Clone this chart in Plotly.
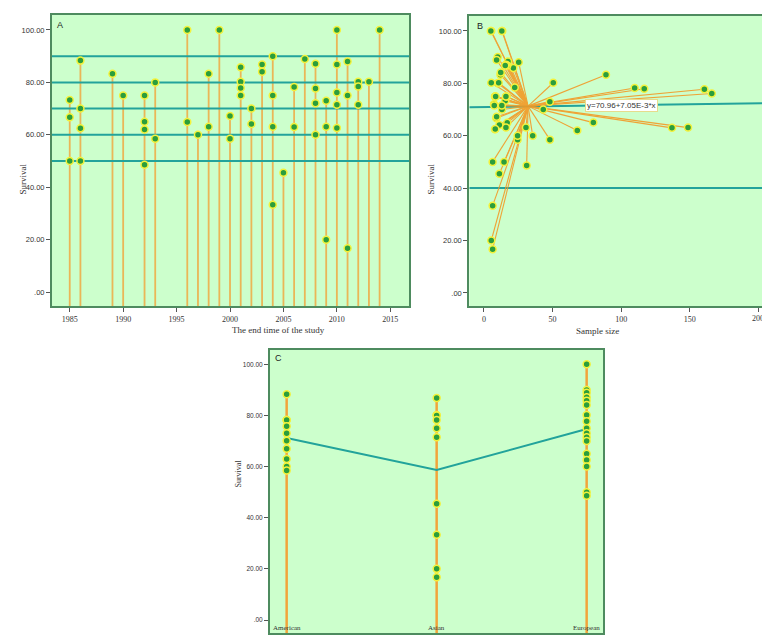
import plotly.graph_objects as go

# ---------------- Data ----------------
# Panels A and B: one entry per study
YEARS = [1985, 1985, 1985,
         1986, 1986, 1986, 1986,
         1989, 1990,
         1992, 1992, 1992, 1992,
         1993, 1993,
         1996, 1996, 1997,
         1998, 1998, 1999,
         2000, 2000,
         2001, 2001, 2001, 2001,
         2002, 2002,
         2003, 2003,
         2004, 2004, 2004, 2004,
         2005,
         2006, 2006,
         2007,
         2008, 2008, 2008, 2008,
         2009, 2009, 2009,
         2010, 2010, 2010, 2010, 2010,
         2011, 2011, 2011,
         2012, 2012, 2012,
         2013, 2014]
SURVIVAL = [73.3, 66.7, 50.0,
            88.3, 70.0, 62.5, 50.0,
            83.3, 75.0,
            75.0, 65.0, 62.0, 48.6,
            80.0, 58.5,
            100.0, 64.9, 60.0,
            83.3, 63.1, 100.0,
            67.2, 58.5,
            85.8, 80.2, 77.9, 75.0,
            70.0, 64.1,
            86.8, 84.1,
            90.0, 75.0, 63.1, 33.3,
            45.5,
            78.2, 63.0,
            88.9,
            87.1, 77.7, 72.0, 60.0,
            73.0, 63.1, 20.0,
            100.0, 86.8, 76.1, 71.5, 62.6,
            88.0, 75.0, 16.7,
            80.2, 78.4, 71.5,
            80.2, 100.0]
SAMPLE_SIZE = [15.5, 9.0, 6.3,
               17.5, 13.1, 8.0, 14.6,
               88.9, 8.2,
               16.5, 79.7, 68.0, 31.1,
               10.0, 24.5,
               5.3, 17.0, 24.5,
               12.0, 148.7, 13.3,
               9.2, 48.0,
               21.4, 50.5, 116.8, 8.0,
               43.2, 11.2,
               17.0, 12.2,
               10.0, 16.0, 30.6, 6.3,
               11.2,
               109.8, 137.0,
               9.2,
               16.0, 160.6, 7.3, 35.5,
               48.0, 16.0, 5.3,
               5.0, 15.5, 166.0, 7.5, 8.2,
               25.3, 8.5, 6.3,
               5.3, 22.4, 13.0,
               10.7, 13.0]

REF_LINES_A = [50, 60, 70, 80, 90]
REF_LINE_B = 40
FIT_INTERCEPT = 70.96
FIT_SLOPE = 7.05e-3
FIT_LABEL = "y=70.96+7.05E-3*x"

# Panel C
COUNTRIES = ["American", "Asian", "European"]
AMERICAN = [88.3, 78.2, 78.2, 75.8, 73.0, 70.1, 67.0, 63.0, 60.0, 58.5]
ASIAN = [86.8, 80.2, 80.0, 78.2, 75.0, 71.5, 45.5, 33.3, 20.0, 16.7]
EUROPEAN = [100.0, 90.0, 88.9, 87.1, 85.8, 84.1, 80.2, 77.7, 75.0, 73.0,
            71.5, 70.0, 65.0, 62.6, 60.0, 50.0, 48.6]
COUNTRY_VALUES = [AMERICAN, ASIAN, EUROPEAN]

Y_TICKS = [0, 20, 40, 60, 80, 100]
Y_TICKTEXT = [".00", "20.00", "40.00", "60.00", "80.00", "100.00"]
X_TICKS_A = [1985, 1990, 1995, 2000, 2005, 2010, 2015]
X_TICKS_B = [0, 50, 100, 150]
X_TICK_B_EDGE = 200  # partly cut off at the right edge in the reference

# ---------------- Style ----------------
W, H = 762, 643
BG = "#ccffcc"
BORDER = "#4e8b5f"
TEAL = "#22a39b"
ORANGE = "#f2a43a"
SPOKE = "#f39a26"
GREEN = "#2b9e3c"
YELLOW = "#f4f23c"
TXT = "#333333"
SANS = "Liberation Sans, Arial, sans-serif"
SERIF = "Liberation Serif, Times New Roman, serif"

YR_A = [-5.3, 105.7]
XR_A = [1983.34, 2016.75]
YR_B = [-5.0, 105.8]
XR_B = [-10.7, 202.6]
YR_C = [-5.2, 105.6]
XR_C = [-0.111, 2.111]


def px_x(p):
    return p / W


def px_y(p):
    return 1 - p / H


marker = dict(size=7, color=GREEN, line=dict(color=YELLOW, width=1.5))

fig = go.Figure()

# ---------- Panel A ----------
max_by_year = {}
for yr, s in zip(YEARS, SURVIVAL):
    max_by_year[yr] = max(max_by_year.get(yr, -1e9), s)
dx, dy = [], []
for yr, m in max_by_year.items():
    dx += [yr, yr, None]
    dy += [YR_A[0], m, None]
fig.add_trace(go.Scatter(x=dx, y=dy, mode="lines", line=dict(color=ORANGE, width=1.8),
                         opacity=0.8, xaxis="x", yaxis="y", hoverinfo="skip"))
hx, hy = [], []
for v in REF_LINES_A:
    hx += [XR_A[0], XR_A[1], None]
    hy += [v, v, None]
fig.add_trace(go.Scatter(x=hx, y=hy, mode="lines", line=dict(color=TEAL, width=2),
                         xaxis="x", yaxis="y", hoverinfo="skip"))
fig.add_trace(go.Scatter(x=YEARS, y=SURVIVAL, mode="markers", marker=marker,
                         xaxis="x", yaxis="y"))

# ---------- Panel B ----------
cx = sum(SAMPLE_SIZE) / len(SAMPLE_SIZE)
cy = sum(SURVIVAL) / len(SURVIVAL)
fig.add_trace(go.Scatter(x=[XR_B[0], XR_B[1] + 20], y=[REF_LINE_B, REF_LINE_B], mode="lines",
                         line=dict(color=TEAL, width=2), xaxis="x2", yaxis="y2", hoverinfo="skip"))
fx = [XR_B[0], XR_B[1] + 20]
fig.add_trace(go.Scatter(x=fx, y=[FIT_INTERCEPT + FIT_SLOPE * v for v in fx], mode="lines",
                         line=dict(color=TEAL, width=2), xaxis="x2", yaxis="y2", hoverinfo="skip"))
sx, sy = [], []
for n, s in zip(SAMPLE_SIZE, SURVIVAL):
    sx += [cx, n, None]
    sy += [cy, s, None]
fig.add_trace(go.Scatter(x=sx, y=sy, mode="lines", line=dict(color=SPOKE, width=1.1),
                         opacity=0.9, xaxis="x2", yaxis="y2", hoverinfo="skip"))
fig.add_trace(go.Scatter(x=SAMPLE_SIZE, y=SURVIVAL, mode="markers", marker=marker,
                         xaxis="x2", yaxis="y2"))

# ---------- Panel C ----------
cdx, cdy = [], []
for i, vals in enumerate(COUNTRY_VALUES):
    cdx += [i, i, None]
    cdy += [YR_C[0], max(vals), None]
fig.add_trace(go.Scatter(x=cdx, y=cdy, mode="lines", line=dict(color=ORANGE, width=2.5),
                         xaxis="x3", yaxis="y3", hoverinfo="skip"))
means = [sum(v) / len(v) for v in COUNTRY_VALUES]
fig.add_trace(go.Scatter(x=list(range(len(COUNTRIES))), y=means, mode="lines",
                         line=dict(color=TEAL, width=2), xaxis="x3", yaxis="y3"))
px_, py_ = [], []
for i, vals in enumerate(COUNTRY_VALUES):
    px_ += [i] * len(vals)
    py_ += vals
fig.add_trace(go.Scatter(x=px_, y=py_, mode="markers", marker=marker, xaxis="x3", yaxis="y3"))

# ---------- Axes ----------
def y_common(size):
    return dict(tickvals=Y_TICKS, ticktext=Y_TICKTEXT, showgrid=False, zeroline=False,
                showline=True, linecolor=BORDER, linewidth=2, ticks="outside", ticklen=4,
                tickcolor="#555555", tickfont=dict(family=SANS, size=size, color=TXT))


common_x = dict(showgrid=False, zeroline=False, showline=True, linecolor=BORDER, linewidth=2,
                ticks="outside", ticklen=4, tickcolor="#555555",
                tickfont=dict(family=SERIF, size=8, color=TXT))

fig.update_layout(
    width=W, height=H, margin=dict(l=0, r=0, t=0, b=0),
    paper_bgcolor="white", plot_bgcolor=BG, showlegend=False,
    xaxis=dict(domain=[px_x(52), px_x(409)], range=XR_A, tickvals=X_TICKS_A, mirror=True,
               anchor="y", **common_x),
    yaxis=dict(domain=[px_y(306), px_y(15)], range=YR_A, mirror=True, anchor="x", **y_common(7.5)),
    xaxis2=dict(domain=[px_x(469.3), 1.0], range=XR_B, tickvals=X_TICKS_B + [X_TICK_B_EDGE],
                ticktext=[str(v) for v in X_TICKS_B] + [""], mirror=True, anchor="y2", **common_x),
    yaxis2=dict(domain=[px_y(306), px_y(15.7)], range=YR_B, mirror=False, anchor="x2", **y_common(7.5)),
    xaxis3=dict(domain=[px_x(270), px_x(603.3)], range=XR_C, showgrid=False, zeroline=False,
                showline=True, linecolor=BORDER, linewidth=2, mirror=True,
                showticklabels=False, ticks="", anchor="y3"),
    yaxis3=dict(domain=[px_y(633.3), px_y(350)], range=YR_C, mirror=True, anchor="x3", **y_common(6.5)),
)

ann = []
for lab, x, y in [("A", 55, 25), ("B", 475, 26), ("C", 273, 358)]:
    ann.append(dict(text=lab, x=px_x(x), y=px_y(y), xref="paper", yref="paper",
                    xanchor="left", yanchor="middle", showarrow=False,
                    font=dict(family=SANS, size=9, color="#222")))
# axis titles
ann.append(dict(text="Survival", x=px_x(15), y=px_y(162), xref="paper", yref="paper", textangle=-90,
                showarrow=False, font=dict(family=SERIF, size=9, color=TXT)))
ann.append(dict(text="The end time of the study", x=px_x(230), y=px_y(330), xref="paper", yref="paper",
                showarrow=False, font=dict(family=SERIF, size=9, color=TXT)))
ann.append(dict(text="Survival", x=px_x(430), y=px_y(162), xref="paper", yref="paper", textangle=-90,
                showarrow=False, font=dict(family=SERIF, size=9, color=TXT)))
ann.append(dict(text="Sample size", x=px_x(621), y=px_y(331), xref="paper", yref="paper",
                showarrow=False, font=dict(family=SERIF, size=9, color=TXT)))
ann.append(dict(text="Survival", x=px_x(232), y=px_y(490), xref="paper", yref="paper", textangle=-90,
                showarrow=False, font=dict(family=SERIF, size=8, color=TXT)))
ann.append(dict(text="Country", x=px_x(436), y=px_y(640), xref="paper", yref="paper",
                yanchor="top", showarrow=False, font=dict(family=SERIF, size=9, color=TXT)))
# edge tick label of B (cropped at the right border in the reference)
ann.append(dict(text=str(X_TICK_B_EDGE), x=X_TICK_B_EDGE, y=px_y(318.5), xref="x2", yref="paper",
                yanchor="middle", showarrow=False, font=dict(family=SERIF, size=8, color=TXT)))
# category labels inside panel C
for i, c in enumerate(COUNTRIES):
    ann.append(dict(text=c, x=i, y=px_y(628), xref="x3", yref="paper", yanchor="middle",
                    showarrow=False, font=dict(family=SERIF, size=7, color=TXT)))
# fit label
ann.append(dict(text=FIT_LABEL, x=100, y=FIT_INTERCEPT + FIT_SLOPE * 100, xref="x2", yref="y2",
                showarrow=False, bgcolor="white", bordercolor="#e6dc8c", borderwidth=1, borderpad=1,
                font=dict(family=SANS, size=8, color="#333")))
fig.update_layout(annotations=ann)

fig.write_html("out.html", config={"displayModeBar": False},
               post_script="document.body.style.margin='0';")
